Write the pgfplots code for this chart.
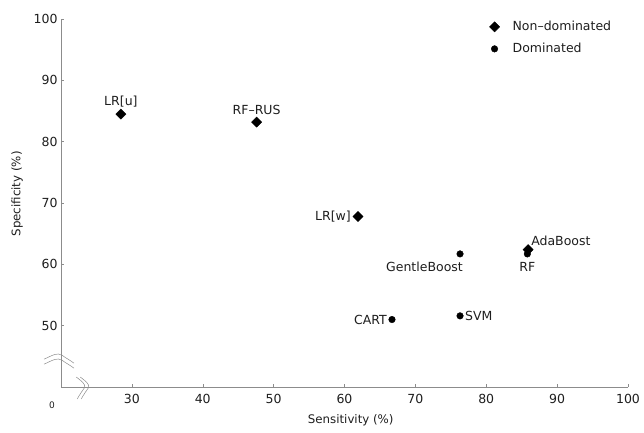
\documentclass[border=0pt]{standalone}
\usepackage{fontspec}
\setmainfont{DejaVu Sans}
\usepackage{pgfplots}
\pgfplotsset{compat=1.18}
\definecolor{axgray}{RGB}{140,140,140}
\definecolor{txt}{RGB}{30,30,30}
\begin{document}
\begin{tikzpicture}
\path (-61pt,-45pt) rectangle (583pt,387pt);
\begin{axis}[
  at={(0pt,0pt)}, anchor=south west,
  width=567pt, height=368pt, scale only axis,
  xmin=20, xmax=100, ymin=40, ymax=100,
  axis x line*=bottom, axis y line*=left,
  axis line style={axgray, line width=0.7pt},
  xtick={30,40,...,100}, ytick={50,60,...,100},
  tick align=inside, major tick length=3pt,
  tick style={axgray, line width=0.5pt},
  tick label style={font=\fontsize{12.5}{14}\selectfont, text=txt},
  xticklabel style={yshift=-4pt},
  /pgf/number format/assume math mode=true,
  xlabel={Sensitivity (\%)}, ylabel={Specificity (\%)},
  label style={text=txt},
  xlabel style={font=\fontsize{11.8}{13}\selectfont, at={(axis description cs:0.511,0)}, anchor=center, yshift=-33pt},
  ylabel style={font=\fontsize{11.8}{13}\selectfont, at={(axis description cs:-0.0776,0.525)}, anchor=center},
  clip=false,
  legend style={draw=none, fill=none, at={(rel axis cs:0.75,1.005)}, anchor=north west,
    font=\fontsize{12.5}{14}\selectfont, row sep=7pt, text=txt},
  legend cell align=left,
]
\addplot[only marks, mark=square*, mark size=3.6pt, mark options={rotate=45, fill=black, draw=black}]
  coordinates {(28.45,84.5) (47.6,83.2) (61.9,67.8) (85.9,62.4)};
\addlegendentry{\hspace{11pt}Non–dominated}
\addplot[only marks, mark=*, mark size=3.3pt, mark options={fill=black, draw=black}]
  coordinates {(76.3,61.7) (85.8,61.7) (66.7,51.0) (76.3,51.6)};
\addlegendentry{\hspace{11pt}Dominated}

\begin{scope}[every node/.style={font=\fontsize{12.5}{14}\selectfont, text=txt, inner sep=0pt}]
\node[anchor=south] at ([yshift=7pt]axis cs:28.45,84.5) {LR[u]};
\node[anchor=south] at ([yshift=7pt]axis cs:47.6,83.2) {RF–RUS};
\node[anchor=east] at ([xshift=-7pt]axis cs:61.9,67.8) {LR[w]};
\node[anchor=south west] at ([xshift=3pt,yshift=4pt]axis cs:85.9,62.4) {AdaBoost};
\node[anchor=north] at ([yshift=-8pt]axis cs:85.8,61.7) {RF};
\node[anchor=north east] at ([xshift=3pt,yshift=-8pt]axis cs:76.3,61.7) {GentleBoost};
\node[anchor=east] at ([xshift=-5pt]axis cs:66.7,51.0) {CART};
\node[anchor=west] at ([xshift=5pt]axis cs:76.3,51.6) {SVM};
\node[anchor=center] at ([xshift=-9pt,yshift=-18pt]axis cs:20,40) {\fontsize{9}{10}\selectfont 0};
\end{scope}

% axis break marks
\begin{scope}[axgray, line width=0.5pt]
\coordinate (yb) at (axis cs:20,44.7);
\draw ([xshift=-17pt,yshift=-1pt]yb) .. controls ([xshift=-8pt,yshift=3pt]yb) and ([xshift=-4pt,yshift=6pt]yb) .. ([xshift=1pt,yshift=3pt]yb) .. controls ([xshift=5pt,yshift=0pt]yb) and ([xshift=9pt,yshift=-2pt]yb) .. ([xshift=13pt,yshift=-5pt]yb);
\draw ([xshift=-17pt,yshift=-6pt]yb) .. controls ([xshift=-8pt,yshift=-2pt]yb) and ([xshift=-4pt,yshift=1pt]yb) .. ([xshift=1pt,yshift=-2pt]yb) .. controls ([xshift=5pt,yshift=-5pt]yb) and ([xshift=9pt,yshift=-7pt]yb) .. ([xshift=13pt,yshift=-10pt]yb);
\coordinate (xb) at (axis cs:23,40);
\draw ([xshift=-6pt,yshift=10pt]xb) .. controls ([xshift=-1pt,yshift=6pt]xb) and ([xshift=4pt,yshift=3pt]xb) .. ([xshift=2pt,yshift=-1pt]xb) .. controls ([xshift=0pt,yshift=-4pt]xb) and ([xshift=-3pt,yshift=-8pt]xb) .. ([xshift=-5pt,yshift=-12pt]xb);
\draw ([xshift=-2pt,yshift=10pt]xb) .. controls ([xshift=3pt,yshift=6pt]xb) and ([xshift=8pt,yshift=3pt]xb) .. ([xshift=6pt,yshift=-1pt]xb) .. controls ([xshift=4pt,yshift=-4pt]xb) and ([xshift=1pt,yshift=-8pt]xb) .. ([xshift=-1pt,yshift=-12pt]xb);
\end{scope}
\end{axis}
\end{tikzpicture}
\end{document}
